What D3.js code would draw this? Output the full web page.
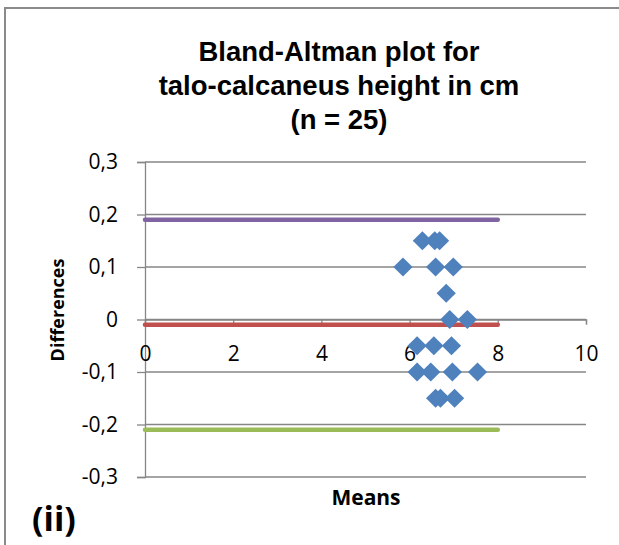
<!DOCTYPE html>
<html>
<head>
<meta charset="utf-8">
<script src="https://cdn.jsdelivr.net/npm/d3@7"></script>
<style>
  body { margin: 0; background: #fff; }
  svg { display: block; }
</style>
</head>
<body>
<div id="chart"></div>
<script>
// data: means (x) and differences (y) per pair
const means = [6.29, 6.57, 6.68, 5.85, 6.59, 6.99, 6.83, 6.91, 7.31, 6.17, 6.55, 6.95, 6.17, 6.48, 6.97, 7.54, 6.59, 6.70, 7.02];
const diffs = [0.15, 0.15, 0.15, 0.10, 0.10, 0.10, 0.05, 0.00, 0.00, -0.05, -0.05, -0.05, -0.10, -0.10, -0.10, -0.10, -0.15, -0.15, -0.15];

// limits of agreement and mean difference
const limitNames = ["upper", "mean", "lower"];
const limitValues = [0.19, -0.01, -0.21];
const limitColors = ["#8064A2", "#C0504D", "#9BBB59"];
const limitSpan = [0, 8];

const xTicks = [0, 2, 4, 6, 8, 10];
const yTicks = [-0.3, -0.2, -0.1, 0, 0.1, 0.2, 0.3];
const titleLines = ["Bland-Altman plot for", "talo-calcaneus height in cm", "(n = 25)"];

const W = 619, H = 545;
const margin = { left: 145, right: 33, top: 162, bottom: 68 };

const svg = d3.select("#chart").append("svg").attr("width", W).attr("height", H);

// outer frame (only left and top visible)
svg.append("path")
  .attr("d", "M5,545 L5,8 L619,8")
  .attr("fill", "none")
  .attr("stroke", "#8a8a8a")
  .attr("stroke-width", 2);

const x = d3.scaleLinear().domain([0, 10]).range([margin.left, W - margin.right]);
const y = d3.scaleLinear().domain([-0.3, 0.3]).range([H - margin.bottom, margin.top]);

const loc = d3.formatLocale({ decimal: ",", thousands: ".", grouping: [3], currency: ["", ""], minus: "-" });
const fmtY = d => (d === 0 ? "0" : loc.format(".1f")(d));

//gridlines
svg.append("g")
  .selectAll("line")
  .data(yTicks)
  .join("line")
  .attr("x1", x(0))
  .attr("x2", x(10))
  .attr("y1", d => y(d))
  .attr("y2", d => y(d))
  .attr("stroke", "#868686")
  .attr("stroke-width", 1.3);

//y axis
const yAxis = svg.append("g")
  .attr("transform", "translate(" + x(0) + ",0)")
  .call(d3.axisLeft(y).tickValues(yTicks).tickFormat(fmtY).tickSize(8).tickPadding(19));
yAxis.select(".domain").attr("stroke", "#868686").attr("stroke-width", 1.3);
yAxis.selectAll(".tick line").attr("stroke", "#868686").attr("stroke-width", 1.3);
yAxis.selectAll("text")
  .style("font-family", "'Open Sans', sans-serif")
  .style("font-size", "21px")
  .attr("fill", "#000");

//x axis crossing at zero
const xAxis = svg.append("g")
  .attr("transform", "translate(0," + y(0) + ")")
  .call(d3.axisBottom(x).tickValues(xTicks).tickFormat(d3.format("d")).tickSize(5).tickPadding(22));
xAxis.select(".domain").attr("stroke", "#868686").attr("stroke-width", 1.3);
xAxis.selectAll(".tick line").attr("stroke", "#868686").attr("stroke-width", 1.3);
xAxis.selectAll("text")
  .style("font-family", "'Open Sans', sans-serif")
  .style("font-size", "21px")
  .attr("fill", "#000");

//limit lines
svg.append("g")
  .selectAll("line")
  .data(limitValues)
  .join("line")
  .attr("x1", x(limitSpan[0]))
  .attr("x2", x(limitSpan[1]))
  .attr("y1", d => y(d))
  .attr("y2", d => y(d))
  .attr("stroke", (d, i) => limitColors[i])
  .attr("stroke-width", 4.5)
  .attr("stroke-linecap", "round");

//points
const diamond = d3.symbol().type(d3.symbolSquare).size(185);
svg.append("g")
  .selectAll("path")
  .data(means.map((m, i) => ({ m, d: diffs[i] })))
  .join("path")
  .attr("d", diamond)
  .attr("transform", p => "translate(" + x(p.m) + "," + y(p.d) + ") rotate(45)")
  .attr("fill", "#4F81BD");

//title
svg.append("text")
  .attr("text-anchor", "middle")
  .style("font-family", "'Liberation Sans', Arial, sans-serif")
  .style("font-weight", "bold")
  .style("font-size", "27.5px")
  .selectAll("tspan")
  .data(titleLines)
  .join("tspan")
  .attr("x", 339)
  .attr("y", (d, i) => 61 + i * 34)
  .text(d => d);

//axis titles
svg.append("text")
  .attr("x", 366)
  .attr("y", 505)
  .attr("text-anchor", "middle")
  .style("font-family", "'Open Sans', sans-serif")
  .style("font-weight", "bold")
  .style("font-size", "21px")
  .text("Means");

svg.append("text")
  .attr("transform", "translate(64,310) rotate(-90)")
  .attr("text-anchor", "middle")
  .style("font-family", "'Open Sans', sans-serif")
  .style("font-weight", "bold")
  .style("font-size", "18px")
  .text("Differences");

svg.append("text")
  .attr("x", 32)
  .attr("y", 531)
  .style("font-family", "'Open Sans', sans-serif")
  .style("font-weight", "bold")
  .style("font-size", "34px")
  .text("(ii)");
</script>
</body>
</html>
